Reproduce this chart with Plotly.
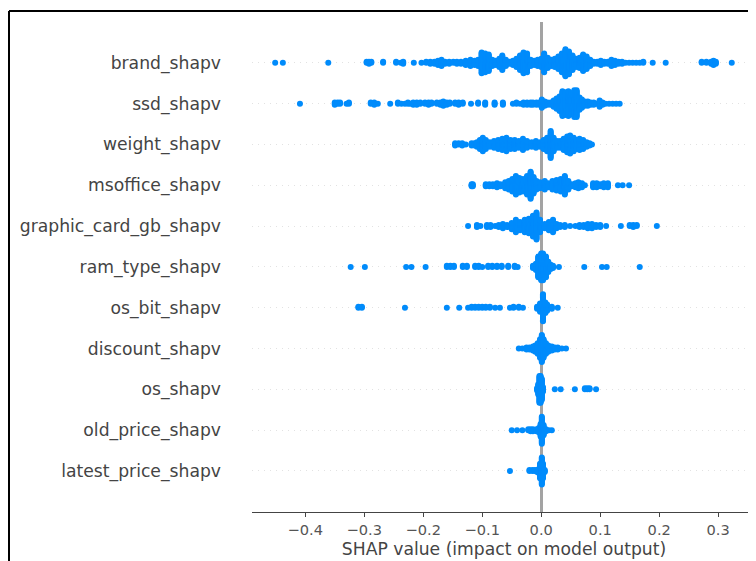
import numpy as np
import plotly.graph_objects as go

features = ["latest_price_shapv", "old_price_shapv", "os_shapv", "discount_shapv", "os_bit_shapv",
            "ram_type_shapv", "graphic_card_gb_shapv", "msoffice_shapv", "weight_shapv", "ssd_shapv", "brand_shapv"]

brand_values = [-0.451,-0.438,-0.361,-0.296,-0.292,-0.288,-0.268,-0.246,-0.238,-0.234,-0.216,-0.203,-0.195,-0.188,-0.181,-0.175,-0.169,-0.163,-0.156,-0.149,-0.143,-0.136,-0.128,-0.120,-0.113,-0.107,-0.101,-0.095,-0.089,-0.083,-0.077,-0.071,-0.066,-0.060,-0.054,-0.048,-0.042,-0.036,-0.030,-0.024,-0.018,-0.012,-0.006,0.000,0.005,0.011,0.017,0.023,0.029,0.035,0.041,0.047,0.053,0.059,0.065,0.071,0.077,0.083,0.089,0.095,0.101,0.107,0.113,0.119,0.125,0.131,0.137,0.143,0.149,0.155,0.161,0.167,0.173,0.189,0.211,0.272,0.280,0.288,0.292,0.296,0.323]
brand_counts = [1,1,1,2,3,2,2,2,1,3,1,1,2,3,3,5,7,3,3,2,3,3,5,7,5,7,21,19,17,7,5,9,15,7,3,5,9,15,21,19,7,5,7,9,19,11,7,9,13,19,27,23,15,9,11,17,13,7,3,3,5,3,3,7,5,3,3,1,1,1,1,1,2,1,1,2,2,3,5,3,1]

ssd_values = [-0.409,-0.350,-0.345,-0.341,-0.330,-0.326,-0.289,-0.283,-0.277,-0.256,-0.243,-0.237,-0.231,-0.226,-0.222,-0.217,-0.211,-0.205,-0.197,-0.191,-0.186,-0.177,-0.171,-0.166,-0.160,-0.155,-0.146,-0.140,-0.133,-0.119,-0.107,-0.095,-0.079,-0.065,-0.048,-0.042,-0.036,-0.030,-0.024,-0.018,-0.014,-0.008,-0.003,0.001,0.006,0.011,0.016,0.021,0.026,0.031,0.036,0.041,0.046,0.051,0.056,0.060,0.065,0.069,0.074,0.079,0.084,0.089,0.094,0.099,0.104,0.109,0.115,0.121,0.127,0.133]
ssd_counts = [1,3,2,2,1,2,2,3,1,1,2,1,1,2,1,3,3,2,2,3,2,2,3,5,3,2,2,3,2,1,2,3,3,3,1,2,1,3,3,3,3,3,3,9,5,3,3,7,11,15,25,23,25,21,27,27,13,9,5,5,3,3,1,7,3,1,1,1,1,1]

weight_values = [-0.146,-0.140,-0.134,-0.128,-0.118,-0.113,-0.109,-0.104,-0.099,-0.094,-0.087,-0.080,-0.073,-0.066,-0.059,-0.052,-0.045,-0.038,-0.031,-0.024,-0.016,-0.009,-0.002,0.004,0.010,0.016,0.021,0.027,0.032,0.038,0.044,0.049,0.055,0.060,0.065,0.071,0.077,0.082,0.086]
weight_counts = [3,2,3,1,3,3,5,9,13,9,5,7,9,11,13,9,9,7,11,7,5,7,5,9,13,25,13,7,7,11,15,17,13,9,11,9,5,3,1]

msoffice_values = [-0.118,-0.116,-0.094,-0.088,-0.082,-0.075,-0.069,-0.061,-0.055,-0.049,-0.043,-0.037,-0.031,-0.024,-0.018,-0.013,-0.008,-0.002,0.006,0.012,0.019,0.026,0.033,0.040,0.046,0.052,0.058,0.063,0.069,0.074,0.088,0.094,0.100,0.106,0.113,0.130,0.138,0.149]
msoffice_counts = [3,3,3,3,3,5,3,7,9,13,19,15,13,19,27,17,9,7,9,5,9,11,13,19,9,3,5,7,5,1,5,5,3,5,5,1,1,1]

graphic_values = [-0.124,-0.109,-0.103,-0.092,-0.086,-0.078,-0.072,-0.065,-0.058,-0.050,-0.043,-0.036,-0.028,-0.021,-0.014,-0.008,-0.002,0.006,0.013,0.020,0.026,0.032,0.040,0.049,0.058,0.065,0.072,0.079,0.086,0.093,0.100,0.110,0.135,0.150,0.156,0.162,0.196]
graphic_counts = [1,3,1,3,3,1,3,5,3,7,13,9,13,15,21,27,13,5,9,13,5,3,3,1,1,3,3,5,5,3,3,1,1,2,3,2,1]

ram_values = [-0.323,-0.299,-0.229,-0.220,-0.196,-0.160,-0.154,-0.148,-0.133,-0.126,-0.112,-0.106,-0.100,-0.090,-0.083,-0.075,-0.067,-0.056,-0.045,-0.040,-0.014,-0.009,-0.005,0.000,0.003,0.008,0.012,0.016,0.020,0.030,0.073,0.103,0.111,0.167]
ram_counts = [1,1,1,1,1,2,2,2,2,2,2,2,1,2,2,2,2,2,2,1,3,7,21,27,27,21,11,5,3,1,1,1,1,1]

osbit_values = [-0.310,-0.304,-0.231,-0.160,-0.139,-0.124,-0.118,-0.112,-0.106,-0.100,-0.094,-0.087,-0.078,-0.070,-0.053,-0.047,-0.038,-0.031,-0.007,-0.002,0.003,0.007,0.010,0.018,0.028]
osbit_counts = [2,2,1,1,1,1,2,2,2,2,2,2,1,1,1,2,2,1,3,9,27,11,7,3,1]

discount_values = [-0.038,-0.032,-0.025,-0.020,-0.014,-0.010,-0.006,-0.002,0.001,0.004,0.008,0.012,0.018,0.023,0.028,0.035,0.042]
discount_counts = [1,1,3,3,5,7,11,19,27,19,11,7,5,3,3,1,1]

os_values = [-0.007,-0.005,-0.003,-0.001,0.001,0.003,0.023,0.033,0.057,0.074,0.078,0.082,0.093]
os_counts = [3,11,27,27,21,5,1,1,1,2,2,2,1]

old_values = [-0.050,-0.041,-0.032,-0.022,-0.018,-0.014,-0.008,-0.004,-0.001,0.001,0.004,0.008,0.013,0.018]
old_counts = [1,1,1,2,3,3,3,5,13,27,11,3,1,1]

latest_values = [-0.053,-0.020,-0.015,-0.011,-0.007,-0.004,-0.002,0.001,0.003,0.006]
latest_counts = [1,2,2,2,3,5,15,27,15,3]

rows = [(latest_values, latest_counts), (old_values, old_counts), (os_values, os_counts),
        (discount_values, discount_counts), (osbit_values, osbit_counts), (ram_values, ram_counts),
        (graphic_values, graphic_counts), (msoffice_values, msoffice_counts), (weight_values, weight_counts),
        (ssd_values, ssd_counts), (brand_values, brand_counts)]

ticks = [-0.4, -0.3, -0.2, -0.1, 0.0, 0.1, 0.2, 0.3]


def swarm(values, counts, row):
    """Stack repeated values alternately above and below the row, as a SHAP summary plot does."""
    xs, offsets = [], []
    for v, c in zip(values, counts):
        for k in range(c):
            xs.append(v)
            offsets.append(np.ceil(k / 2) * (k % 2 * 2 - 1))
    offsets = np.array(offsets, dtype=float)
    return xs, row + offsets * 0.33 / max(offsets.max(), 1)


fig = go.Figure()
for i, (vals, cnts) in enumerate(rows):
    xs, ys = swarm(vals, cnts, i)
    fig.add_trace(go.Scatter(x=xs, y=ys, mode="markers", name=features[i],
                             marker=dict(color="#008bfb", size=6, line=dict(width=0)),
                             hoverinfo="x+name"))

# The page body adds 8 px on the top and left of the figure.
FW, FH = 748, 553
L, T, W, H = 244, 14, 504, 490
frame_x = (1 - L) / W
frame_top = (T + H - 3) / H
frame_bottom = (T + H - FH) / H
fig.update_layout(
    width=FW, height=FH, showlegend=False,
    paper_bgcolor="white", plot_bgcolor="white",
    margin=dict(l=L, r=0, t=T, b=FH - T - H, pad=0),
    font=dict(family="DejaVu Sans", color="#444444"),
    xaxis=dict(range=[-0.4903, 0.3641], tickvals=ticks, tickformat=".1f", ticks="outside",
               ticklen=4, tickwidth=1, tickcolor="#444444", tickfont=dict(size=14.6, color="#555555"),
               showgrid=False, zeroline=True, zerolinecolor="#a3a3a3", zerolinewidth=2.5,
               showline=True, linecolor="#444444", linewidth=1,
               title=dict(text="SHAP value (impact on model output)", standoff=6,
                          font=dict(size=17.2, color="#444444"))),
    yaxis=dict(range=[-1.005, 11.0], tickvals=list(range(len(features))), ticktext=features,
               ticks="", tickfont=dict(size=17.2, color="#444444"), ticklabelstandoff=30,
               showgrid=True, gridcolor="#e2e2e2", gridwidth=1, griddash="1px,5px",
               zeroline=False, showline=False),
    shapes=[
        dict(type="line", xref="paper", yref="paper", x0=frame_x, x1=1, y0=frame_top, y1=frame_top,
             line=dict(color="black", width=2)),
        dict(type="line", xref="paper", yref="paper", x0=frame_x, x1=frame_x, y0=frame_top, y1=frame_bottom,
             line=dict(color="black", width=2)),
    ],
)
fig.write_html("out.html")
